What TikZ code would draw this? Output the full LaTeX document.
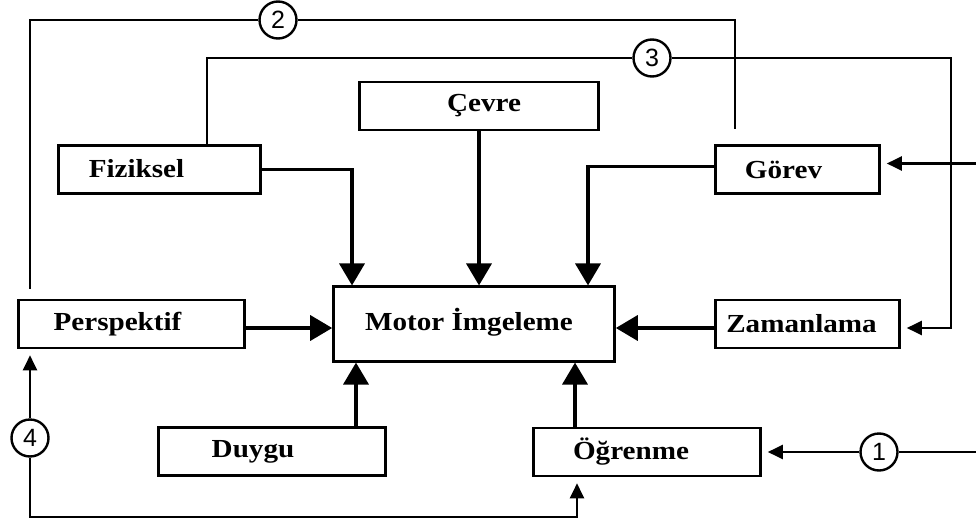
\documentclass[tikz,border=0pt]{standalone}
\usepackage{fontspec}
\setmainfont{Liberation Serif}[FakeStretch=1.12]
\newfontfamily\numfont{Liberation Sans}
\usetikzlibrary{arrows.meta,positioning}

\begin{document}
\begin{tikzpicture}[
  x=1pt, y=-1pt,
  box/.style={
    rectangle, draw, line width=2.6pt,
    minimum height=48pt, inner sep=0pt
  },
  txt/.style={font=\fontsize{26}{28}\selectfont\bfseries, inner sep=0pt},
  num/.style={circle, draw, line width=2.4pt, fill=white,
    minimum size=37pt, inner sep=0pt,
    font=\numfont\fontsize{25}{27}\selectfont},
  bigarrow/.style={-{Triangle[length=22pt, width=25pt]}, line width=3.6pt},
  link/.style={line width=2.2pt},
  linkarrow/.style={link, -{Triangle[length=15pt, width=14pt]}, shorten >=6pt}
]
\useasboundingbox (0,0) rectangle (976,524);

% Boxes
\node[box, minimum width=202pt, label={[txt, xshift=-23pt, yshift=1pt]center:Fiziksel}] (fiz) at (159.5,169.5) {};
\node[box, minimum width=239pt, label={[txt, xshift=5pt]center:Çevre}] (cev) at (479,106) {};
\node[box, minimum width=164pt, label={[txt, xshift=-14pt]center:Görev}] (gor) at (797.5,169.5) {};
\node[box, minimum width=226pt, label={[txt, xshift=-14pt]center:Perspektif}] (per) at (131.5,324) {};
\node[box, minimum width=281pt, minimum height=74.5pt, label={[txt, xshift=-5pt, yshift=2pt]center:Motor İmgeleme}] (mot) at (474,324) {};
\node[box, minimum width=184pt, label={[txt, xshift=-6pt]center:Zamanlama}] (zam) at (807.5,324) {};
\node[box, minimum width=227pt, label={[txt, xshift=-19pt]center:Duygu}] (duy) at (272,451.5) {};
\node[box, minimum width=227pt, label={[txt, xshift=-16pt]center:Öğrenme}] (ogr) at (647,452) {};

% Numbered circles
\node[num] (c1) at (879,452) {1};
\node[num] (c2) at (278,20) {2};
\node[num] (c3) at (652,58) {3};
\node[num] (c4) at (30,438) {4};

% Inputs into Motor Imgeleme
\draw[bigarrow] (fiz.east) -| ([xshift=-122pt]mot.north);
\draw[bigarrow] (cev.south) -- (cev.south |- mot.north);
\draw[bigarrow] ([yshift=3pt]gor.west) -| ([xshift=114pt]mot.north);
\draw[bigarrow] ([yshift=-4pt]per.east) -- ([yshift=-4pt]mot.west);
\draw[bigarrow] ([yshift=-4pt]zam.west) -- ([yshift=-4pt]mot.east);
\draw[bigarrow] ([xshift=84pt]duy.north) -- ([xshift=-118pt]mot.south);
\draw[bigarrow] ([xshift=-72pt]ogr.north) -- ([xshift=101pt]mot.south);

% Outer loops
\draw[link] ([xshift=-101.5pt, yshift=10pt]per.north) |- (c2.west);
\draw[link] (c2.east) -| ([xshift=-62.5pt, yshift=15pt]gor.north);
\draw[link] ([xshift=47.5pt]fiz.north) |- (c3.west);
\draw[linkarrow] (c3.east) -| ([xshift=50pt, yshift=-4pt]zam.east) -- ([yshift=-4pt]zam.east);
\draw[linkarrow] (c4.north) -- ([xshift=-101.5pt]per.south);
\draw[linkarrow] (c4.south) |- ([xshift=-70pt, yshift=-40pt]ogr.south) -- ([xshift=-70pt]ogr.south);

% Inputs from the right edge
\coordinate (gin) at ([xshift=95pt, yshift=6pt]gor.east);
\coordinate (oin) at (976,452);
\draw[linkarrow] (gin) -- ([yshift=6pt]gor.east);
\draw[link] (oin) -- (c1);
\draw[linkarrow] (c1) -- (ogr.east);

\end{tikzpicture}
\end{document}
